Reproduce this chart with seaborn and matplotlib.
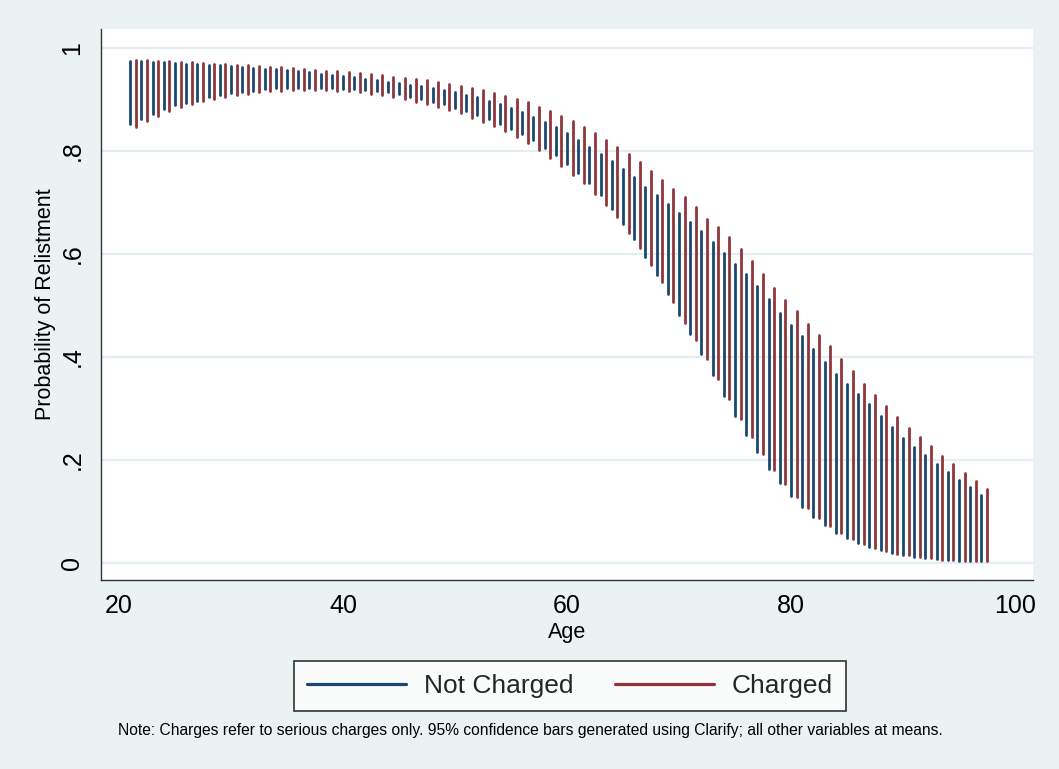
import numpy as np
import pandas as pd
import seaborn as sns
import matplotlib
matplotlib.use("Agg")
import matplotlib.pyplot as plt
from matplotlib.lines import Line2D

# ---------------- data ----------------
ages_not_charged = list(range(21, 98))
ages_charged = [a + 0.5 for a in ages_not_charged]

nc_hi = [.975, .974, .973, .972, .971, .970, .969, .968, .967, .966,
         .964, .962, .960, .959, .957, .955, .953, .950, .948, .946,
         .943, .940, .938, .935, .932, .929, .926, .922, .918, .914,
         .909, .904, .898, .891, .883, .876, .867, .857, .846, .835,
         .822, .808, .795, .780, .766, .749, .731, .715, .697, .680,
         .663, .644, .623, .602, .581, .561, .537, .513, .486, .463,
         .440, .415, .390, .368, .348, .328, .309, .286, .265, .243,
         .226, .210, .193, .176, .161, .147, .132]
nc_lo = [.853, .863, .872, .882, .889, .894, .898, .904, .909, .913,
         .915, .917, .920, .922, .923, .923, .923, .923, .922, .921,
         .920, .918, .917, .914, .910, .905, .902, .896, .891, .884,
         .878, .870, .862, .852, .843, .833, .821, .806, .792, .775,
         .757, .737, .715, .687, .659, .629, .595, .560, .522, .482,
         .444, .405, .365, .325, .285, .249, .215, .183, .155, .131,
         .109, .089, .074, .059, .048, .039, .031, .025, .020, .016,
         .012, .010, .008, .006, .004, .003, .003]
ch_hi = [.976, .976, .975, .974, .973, .972, .971, .970, .969, .968,
         .967, .966, .964, .963, .961, .959, .957, .956, .955, .953,
         .951, .949, .947, .944, .942, .940, .937, .934, .931, .927,
         .922, .918, .913, .907, .901, .895, .886, .878, .869, .858,
         .847, .835, .822, .808, .794, .779, .762, .744, .727, .711,
         .691, .669, .653, .634, .610, .586, .561, .535, .511, .490,
         .465, .442, .421, .397, .372, .348, .326, .304, .283, .263,
         .245, .227, .208, .192, .175, .159, .144]
ch_lo = [.847, .858, .869, .877, .885, .891, .897, .902, .905, .908,
         .911, .915, .916, .917, .918, .919, .919, .918, .917, .916,
         .914, .911, .909, .905, .901, .896, .892, .885, .880, .873,
         .865, .857, .849, .838, .827, .816, .802, .787, .771, .753,
         .737, .717, .696, .671, .641, .611, .579, .545, .506, .467,
         .434, .396, .357, .319, .280, .244, .211, .181, .153, .129,
         .106, .088, .071, .058, .046, .037, .029, .023, .018, .015,
         .012, .009, .006, .005, .004, .003, .003]

groups = ["Not Charged", "Charged"]
x_ticks = [20, 40, 60, 80, 100]
y_ticks = [0, .2, .4, .6, .8, 1]
y_tick_labels = ["0", ".2", ".4", ".6", ".8", "1"]
note = ("Note: Charges refer to serious charges only. 95% confidence bars "
        "generated using Clarify; all other variables at means.")

# long-form table: each confidence bar = 2 points sharing a unit id
rows = []
for g, xs, los, his in [(groups[0], ages_not_charged, nc_lo, nc_hi),
                        (groups[1], ages_charged, ch_lo, ch_hi)]:
    for i, (x, lo, hi) in enumerate(zip(xs, los, his)):
        uid = f"{g}-{i}"
        rows.append((g, uid, x, lo))
        rows.append((g, uid, x, hi))
df = pd.DataFrame(rows, columns=["group", "bar", "age", "prob"])

# ---------------- style ----------------
BG = "#EAF2F3"
BLUE = "#1a476f"
RED = "#90353b"
sns.set_theme(style="white")
plt.rcParams["font.family"] = ["Liberation Sans", "DejaVu Sans"]

fig = plt.figure(figsize=(10.59, 7.69), dpi=100, facecolor=BG)
ax = fig.add_axes([101/1059, 1-580/769, (1033-101)/1059, (580-29)/769])
ax.set_facecolor("white")

sns.lineplot(data=df, x="age", y="prob", hue="group", units="bar",
             estimator=None, sort=False, palette={groups[0]: BLUE, groups[1]: RED},
             linewidth=2.0, legend=False, ax=ax)

ax.set_xlim(18.39, 101.6)
ax.set_ylim(-0.033, 1.037)
ax.set_xticks(x_ticks)
ax.set_xticklabels([str(t) for t in x_ticks])
ax.set_yticks(y_ticks)
ax.set_yticklabels(y_tick_labels, rotation=90, va="center")

ax.yaxis.grid(True, color="#E4EDF0", linewidth=1.6)
ax.xaxis.grid(False)
ax.set_axisbelow(True)

for s in ["top", "right"]:
    ax.spines[s].set_visible(False)
for s in ["left", "bottom"]:
    ax.spines[s].set_color("#333333")
    ax.spines[s].set_linewidth(1.0)

ax.tick_params(axis="both", which="major", direction="out", length=6,
               width=1.0, color="#333333", labelsize=18, labelcolor="black")
ax.tick_params(axis="x", pad=4)
ax.tick_params(axis="y", pad=6)

ax.set_xlabel("Age", fontsize=15.5, labelpad=3, color="black")
ax.set_ylabel("Probability of Relistment", fontsize=15.5, labelpad=3, color="black")

handles = [Line2D([], [], color=BLUE, lw=2.3), Line2D([], [], color=RED, lw=2.3)]
leg = fig.legend(handles, groups, loc="center", bbox_to_anchor=(570/1059, 1-686/769),
                 ncol=2, fontsize=19, frameon=True, fancybox=False,
                 handlelength=3.75, handletextpad=0.65, columnspacing=1.6,
                 borderpad=0.5)
leg.get_frame().set_edgecolor("black")
leg.get_frame().set_linewidth(1.2)
leg.get_frame().set_facecolor("white")

fig.text(118/1059, 1-731/769, note, ha="left", va="center", fontsize=11.25, color="black")

fig.savefig("out.png", dpi=100, facecolor=BG)
